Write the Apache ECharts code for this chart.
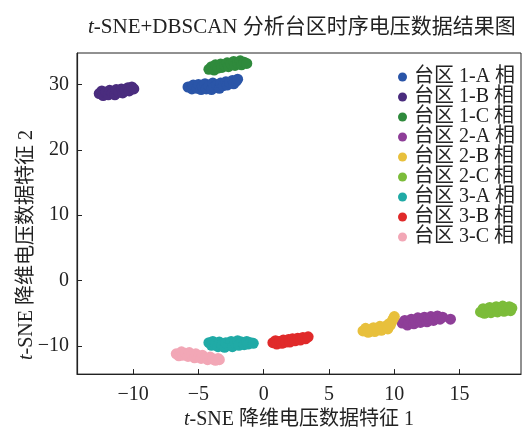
<!DOCTYPE html>
<html>
<head>
<meta charset="utf-8">
<script src="https://cdn.jsdelivr.net/npm/echarts@6/dist/echarts.min.js"></script>
<style>html,body{margin:0;padding:0;background:#fff}#c{width:532px;height:435px}</style>
</head>
<body>
<div id="c"></div>
<script>
const seriesNames = ['台区 1-A 相','台区 1-B 相','台区 1-C 相','台区 2-A 相','台区 2-B 相','台区 2-C 相','台区 3-A 相','台区 3-B 相','台区 3-C 相'];
const colors = ['#2a55a8','#4a2c7e','#2f8a3c','#8e3e98','#e8c03c','#7cbc3a','#20aaa6','#e02a2a','#f2a7b6'];
const xTicks = [-10,-5,0,5,10,15];
const yTicks = [-10,0,10,20,30];

const d1A = [[-5.8,29.6],[-5.5,29.3],[-5.4,29.9],[-5.1,29.4],[-5.0,30.0],[-4.8,29.2],[-4.7,29.7],[-4.5,30.1],[-4.4,29.3],[-4.2,29.8],[-4.0,29.2],[-3.9,30.2],[-3.8,29.6],[-3.6,29.9],[-3.4,29.4],[-3.3,30.2],[-3.1,29.8],[-2.9,30.4],[-2.8,29.9],[-2.6,30.3],[-2.4,30.6],[-2.3,30.1],[-2.1,30.5],[-2.0,30.8]];
const d1B = [[-12.6,28.6],[-12.4,29.0],[-12.3,28.3],[-12.1,28.8],[-11.9,28.4],[-11.8,29.1],[-11.6,28.7],[-11.4,28.4],[-11.3,29.2],[-11.1,28.8],[-10.9,29.3],[-10.8,28.7],[-10.6,29.1],[-10.4,29.5],[-10.3,29.0],[-10.1,29.6],[-9.95,29.3]];
const d1C = [[-4.2,32.3],[-4.0,32.7],[-3.8,32.2],[-3.7,33.0],[-3.5,32.5],[-3.3,33.1],[-3.2,32.6],[-3.0,32.9],[-2.8,33.3],[-2.7,32.7],[-2.5,33.1],[-2.3,33.5],[-2.2,32.9],[-2.0,33.3],[-1.8,33.6],[-1.7,33.0],[-1.5,33.4],[-1.3,33.2]];
const d2A = [[10.6,-6.5],[10.8,-6.1],[11.0,-6.8],[11.1,-6.3],[11.3,-5.9],[11.5,-6.6],[11.6,-6.2],[11.8,-5.7],[12.0,-6.4],[12.1,-6.0],[12.3,-5.6],[12.5,-6.3],[12.6,-5.8],[12.8,-5.5],[13.0,-6.1],[13.1,-5.7],[13.3,-5.4],[13.5,-5.9],[13.7,-5.6],[14.3,-5.9]];
const d2B = [[7.6,-7.7],[7.8,-7.3],[8.0,-7.9],[8.2,-7.5],[8.4,-7.2],[8.5,-7.8],[8.7,-7.4],[8.9,-7.0],[9.0,-7.6],[9.2,-7.2],[9.4,-6.9],[9.5,-7.4],[9.7,-6.8],[9.8,-6.3],[9.9,-5.9],[10.0,-5.5],[9.6,-6.6]];
const d2C = [[16.6,-4.8],[16.8,-4.3],[16.9,-5.0],[17.1,-4.6],[17.3,-4.1],[17.4,-4.9],[17.6,-4.5],[17.8,-4.0],[17.9,-4.8],[18.1,-4.4],[18.3,-3.9],[18.4,-4.7],[18.6,-4.3],[18.8,-4.0],[18.9,-4.6],[19.0,-4.2]];
const d3A = [[-4.2,-9.5],[-4.0,-9.9],[-3.9,-9.3],[-3.7,-9.7],[-3.5,-10.1],[-3.4,-9.4],[-3.2,-9.8],[-3.0,-10.2],[-2.9,-9.5],[-2.7,-9.9],[-2.5,-9.3],[-2.4,-10.1],[-2.2,-9.6],[-2.0,-9.2],[-1.9,-9.9],[-1.7,-9.4],[-1.5,-9.8],[-1.3,-9.3],[-1.2,-9.7],[-1.0,-9.5],[-0.8,-9.6]];
const d3B = [[0.7,-9.5],[0.9,-9.2],[1.0,-9.7],[1.2,-9.3],[1.4,-9.6],[1.5,-9.1],[1.7,-9.4],[1.9,-9.0],[2.0,-9.4],[2.2,-8.9],[2.4,-9.2],[2.6,-8.8],[2.8,-9.1],[3.0,-8.7],[3.2,-8.9],[3.4,-8.6]];
const d3C = [[-6.7,-11.2],[-6.5,-11.5],[-6.3,-10.9],[-6.2,-11.4],[-6.0,-11.1],[-5.8,-11.6],[-5.7,-11.0],[-5.5,-11.4],[-5.3,-11.8],[-5.2,-11.2],[-5.0,-11.6],[-4.8,-11.9],[-4.7,-11.4],[-4.5,-11.8],[-4.3,-12.1],[-4.1,-11.7],[-3.9,-12.0],[-3.7,-12.2],[-3.5,-11.9],[-3.4,-12.1]];
const allData = [d1A,d1B,d1C,d2A,d2B,d2C,d3A,d3B,d3C];

const FF = "'Liberation Serif','Times New Roman','Noto Sans CJK SC',serif";
const fmt = v => (v < 0 ? '\u2212' + Math.abs(v) : String(v));

const chart = echarts.init(document.getElementById('c'), null, {renderer:'canvas'});
chart.setOption({
  animation: false,
  backgroundColor: '#fff',
  title: {
    text: '{i|t}-SNE+DBSCAN 分析台区时序电压数据结果图',
    left: 83, top: 12,
    textStyle: {fontFamily: FF, fontSize: 21, fontWeight: 'normal', color: '#222',
      rich: {i: {fontFamily: FF, fontSize: 21, fontStyle: 'italic', color: '#222'}}}
  },
  grid: {left: 77, right: 11, top: 53, bottom: 53, show: true, borderColor: '#222', borderWidth: 1, backgroundColor: 'transparent'},
  legend: {
    orient: 'vertical', left: 393, top: 62, icon: 'circle', itemWidth: 9, itemHeight: 9, itemGap: 0,
    data: seriesNames,
    textStyle: {fontFamily: FF, fontSize: 20, color: '#222', lineHeight: 20, padding: [0,0,0,2]}
  },
  xAxis: {
    type: 'value', min: -14.3, max: 19.7, minInterval: 5, maxInterval: 5,
    name: '{i|t}-SNE 降维电压数据特征 1', nameLocation: 'middle', nameGap: 34,
    nameTextStyle: {fontFamily: FF, fontSize: 20, color: '#222', rich: {i: {fontFamily: FF, fontSize: 20, fontStyle: 'italic', color: '#222'}}},
    axisLine: {show: true, onZero: false, lineStyle: {color: '#222', width: 1.2}},
    axisTick: {show: true, inside: true, length: 5, lineStyle: {color: '#222'}},
    axisLabel: {fontFamily: FF, fontSize: 20, color: '#222', margin: 11, showMinLabel: false, showMaxLabel: false,
      formatter: v => xTicks.includes(v) ? fmt(v) : ''},
    splitLine: {show: false}
  },
  yAxis: {
    type: 'value', min: -14.3, max: 34.8, minInterval: 10, maxInterval: 10,
    axisLine: {show: true, onZero: false, lineStyle: {color: '#222', width: 1.2}},
    axisTick: {show: true, inside: true, length: 5, lineStyle: {color: '#222'}},
    axisLabel: {fontFamily: FF, fontSize: 20, color: '#222', margin: 8, showMinLabel: false, showMaxLabel: false,
      formatter: v => yTicks.includes(v) ? fmt(v) : ''},
    splitLine: {show: false}
  },
  graphic: [{
    type: 'text', x: 27, y: 245, rotation: Math.PI / 2,
    style: {text: '{i|t}-SNE 降维电压数据特征 2', fontFamily: FF, fontSize: 20, fill: '#222', align: 'center', verticalAlign: 'middle',
      rich: {i: {fontFamily: FF, fontSize: 20, fontStyle: 'italic', fill: '#222'}}}
  }],
  series: seriesNames.map((n, i) => ({
    name: n, type: 'scatter', data: allData[i], symbolSize: 11,
    itemStyle: {color: colors[i], opacity: 1}
  }))
});
</script>
</body>
</html>
